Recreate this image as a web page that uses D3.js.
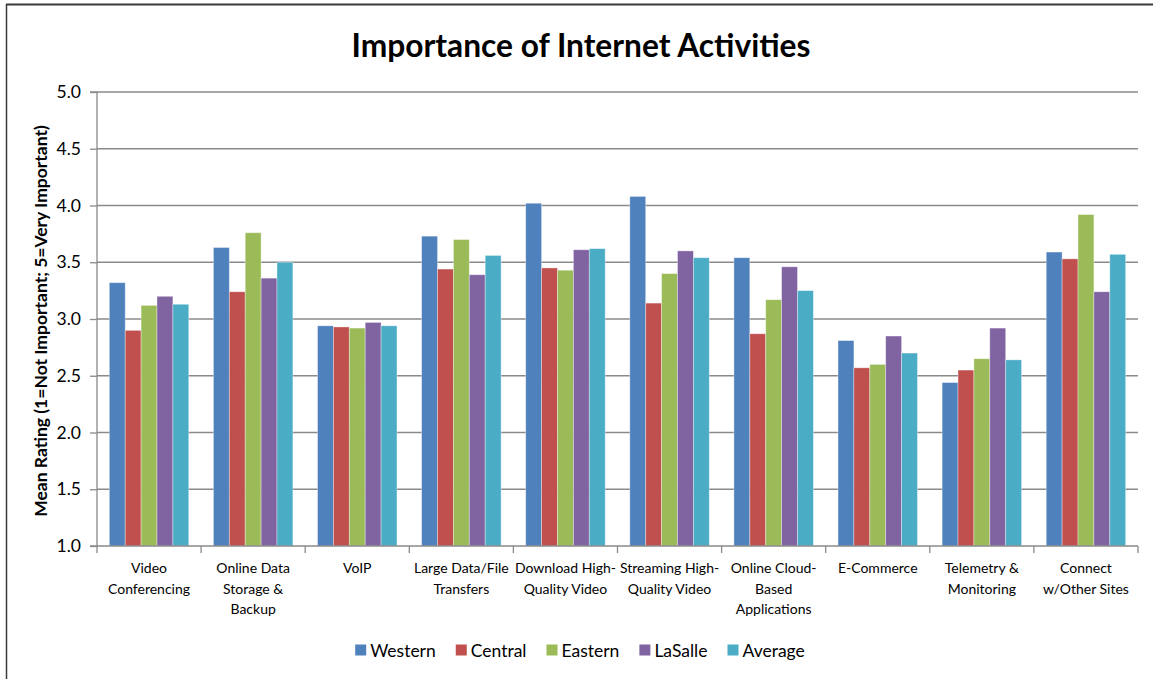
<!DOCTYPE html>
<html>
<head>
<meta charset="utf-8">
<script src="https://cdn.jsdelivr.net/npm/d3@7"></script>
<style>
  html, body { margin: 0; padding: 0; background: #fff; }
  svg { display: block; font-family: Lato, "Open Sans", sans-serif; }
</style>
</head>
<body>
<svg id="chart" width="1153" height="679"></svg>
<script>
// ---- data ----
const title = "Importance of Internet Activities";
const yAxisTitle = "Mean Rating (1=Not Important; 5=Very Important)";
const categories = [
  "Video\nConferencing",
  "Online Data\nStorage &\nBackup",
  "VoIP",
  "Large Data/File\nTransfers",
  "Download High-\nQuality Video",
  "Streaming High-\nQuality Video",
  "Online Cloud-\nBased\nApplications",
  "E-Commerce",
  "Telemetry &\nMonitoring",
  "Connect\nw/Other Sites"
];
const seriesNames = ["Western", "Central", "Eastern", "LaSalle", "Average"];
const seriesColors = ["#4F81BD", "#C0504D", "#9BBB59", "#8064A2", "#4BACC6"];
const western = [3.32, 3.63, 2.94, 3.73, 4.02, 4.08, 3.54, 2.81, 2.44, 3.59];
const central = [2.90, 3.24, 2.93, 3.44, 3.45, 3.14, 2.87, 2.57, 2.55, 3.53];
const eastern = [3.12, 3.76, 2.92, 3.70, 3.43, 3.40, 3.17, 2.60, 2.65, 3.92];
const lasalle = [3.20, 3.36, 2.97, 3.39, 3.61, 3.60, 3.46, 2.85, 2.92, 3.24];
const average = [3.13, 3.50, 2.94, 3.56, 3.62, 3.54, 3.25, 2.70, 2.64, 3.57];
const yTicks = [1.0, 1.5, 2.0, 2.5, 3.0, 3.5, 4.0, 4.5, 5.0];

const seriesValues = [western, central, eastern, lasalle, average];

// ---- layout ----
const svg = d3.select("#chart");
const plot = { left: 97, right: 1138, top: 92, bottom: 546 };

// frame
svg.append("line").attr("x1", 6).attr("x2", 1153).attr("y1", 4.5).attr("y2", 4.5)
  .attr("stroke", "#3a3a3a").attr("stroke-width", 2);
svg.append("line").attr("x1", 6.5).attr("x2", 6.5).attr("y1", 4).attr("y2", 679)
  .attr("stroke", "#3a3a3a").attr("stroke-width", 1.5);

// scales
const x0 = d3.scaleBand().domain(categories).range([plot.left, plot.right]).paddingInner(0).paddingOuter(0);
const x1 = d3.scaleBand().domain(seriesNames).range([0, x0.bandwidth()]).paddingInner(0).paddingOuter(0.775);
const y = d3.scaleLinear().domain([1, 5]).range([plot.bottom, plot.top]);

// gridlines
svg.append("g").selectAll("line").data(yTicks.filter(t => t > 1)).join("line")
  .attr("x1", plot.left).attr("x2", plot.right)
  .attr("y1", d => y(d)).attr("y2", d => y(d))
  .attr("stroke", "#8a8a8a").attr("stroke-width", 1.3);

// bars
const gBars = svg.append("g");
categories.forEach((c, i) => {
  seriesNames.forEach((s, j) => {
    const v = seriesValues[j][i];
    gBars.append("rect")
      .attr("x", x0(c) + x1(s))
      .attr("y", y(v))
      .attr("width", x1.bandwidth())
      .attr("height", y(1) - y(v))
      .attr("fill", seriesColors[j])
      .attr("stroke", "rgba(255,255,255,0.45)")
      .attr("stroke-width", 0.8);
  });
});

// y axis
const yAxis = d3.axisLeft(y).tickValues(yTicks).tickFormat(d3.format(".1f")).tickSize(7).tickPadding(9);
const gy = svg.append("g").attr("transform", `translate(${plot.left},0)`).call(yAxis);
gy.select(".domain").attr("stroke", "#8a8a8a").attr("stroke-width", 1.3).attr("d", `M-7,${plot.top}H0V${plot.bottom}H-7`);
gy.selectAll(".tick line").attr("stroke", "#8a8a8a").attr("stroke-width", 1.3);
gy.selectAll(".tick text").attr("font-size", 17.5).attr("fill", "#000").attr("font-family", "Lato, sans-serif");

// x axis
const gx = svg.append("g").attr("transform", `translate(0,${plot.bottom})`);
gx.append("line").attr("x1", plot.left).attr("x2", plot.right).attr("y1", 0).attr("y2", 0)
  .attr("stroke", "#8a8a8a").attr("stroke-width", 1.3);
const boundaries = categories.map(c => x0(c)).concat([plot.right]);
gx.selectAll("line.tk").data(boundaries).join("line").attr("class", "tk")
  .attr("x1", d => d).attr("x2", d => d).attr("y1", 0).attr("y2", 7)
  .attr("stroke", "#8a8a8a").attr("stroke-width", 1.3);
const lbl = gx.selectAll("text.cat").data(categories).join("text").attr("class", "cat")
  .attr("text-anchor", "middle")
  .attr("font-size", 14)
  .attr("fill", "#000");
lbl.each(function(c) {
  const t = d3.select(this);
  c.split("\n").forEach((line, k) => {
    t.append("tspan").attr("x", x0(c) + x0.bandwidth() / 2).attr("y", 27 + k * 20.5).text(line);
  });
});

// title (fit to reference width)
const tt = svg.append("text").attr("x", 581).attr("y", 57).attr("text-anchor", "middle")
  .attr("font-weight", "bold").attr("font-size", 28).attr("fill", "#000").text(title);
const tw = tt.node().getComputedTextLength();
tt.attr("font-size", 28 * 459 / tw);

// y axis title
const yt = svg.append("text").attr("transform", "translate(47,321) rotate(-90)")
  .attr("text-anchor", "middle").attr("font-weight", "bold").attr("font-size", 14).attr("fill", "#000")
  .text(yAxisTitle);
const yw = yt.node().getComputedTextLength();
yt.attr("font-size", 14 * 392 / yw);

// legend
const legend = svg.append("g");
const legItems = [];
seriesNames.forEach((s, j) => {
  const g = legend.append("g");
  g.append("rect").attr("x", 0).attr("y", -5.5).attr("width", 11).attr("height", 11).attr("fill", seriesColors[j]);
  const t = g.append("text").attr("x", 15).attr("y", 6.5).attr("font-size", 17.5).attr("fill", "#000").text(s);
  const w = 15 + t.node().getComputedTextLength();
  legItems.push({ g, w });
});
const gap = 20;
const totalW = d3.sum(legItems, d => d.w) + gap * (legItems.length - 1);
let lx = 580 - totalW / 2;
legItems.forEach(d => {
  d.g.attr("transform", `translate(${lx},650)`);
  lx += d.w + gap;
});
</script>
</body>
</html>
